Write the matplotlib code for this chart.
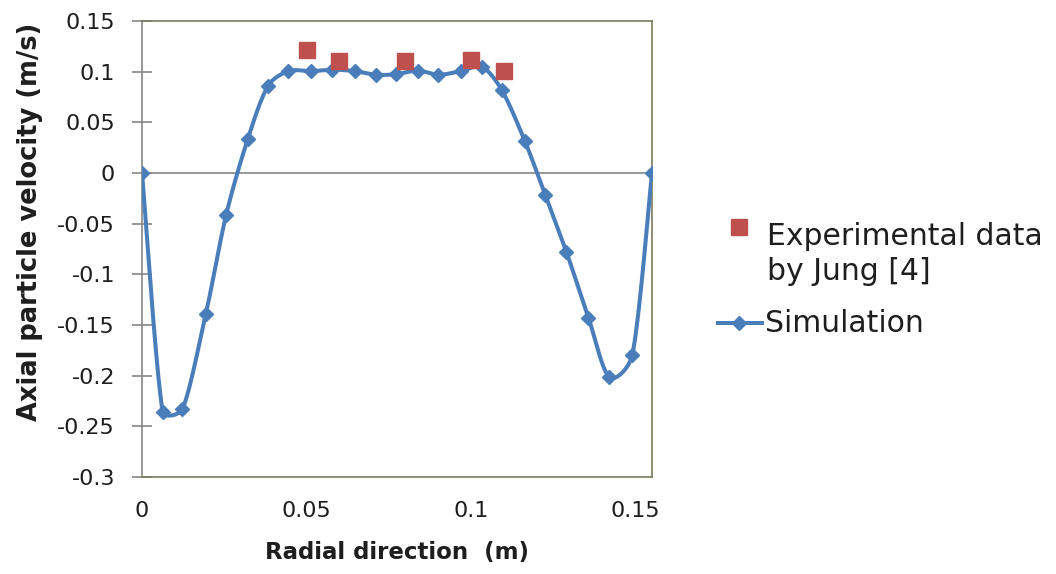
import numpy as np
import matplotlib.pyplot as plt
from matplotlib.lines import Line2D

# ---------------- data ----------------
# simulated axial particle velocity across the column
sim_r = [0.0, 0.0063, 0.0123, 0.0194, 0.0256, 0.0322, 0.0383, 0.0445, 0.0515,
         0.0578, 0.0647, 0.0710, 0.0772, 0.0838, 0.0901, 0.0969, 0.1034,
         0.1094, 0.1163, 0.1226, 0.1290, 0.1357, 0.1420, 0.1490, 0.1550]
sim_v = [0.0, -0.236, -0.233, -0.139, -0.041, 0.034, 0.086, 0.1005, 0.1005,
         0.102, 0.1005, 0.097, 0.0975, 0.101, 0.097, 0.1005, 0.1045,
         0.0815, 0.032, -0.022, -0.078, -0.143, -0.201, -0.180, 0.0]

# experimental points (Jung [4])
exp_r = [0.05, 0.06, 0.08, 0.10, 0.11]
exp_v = [0.121, 0.111, 0.111, 0.112, 0.101]

x_ticks = [0, 0.05, 0.1, 0.15]
x_labels = ['0', '0.05', '0.1', '0.15']
y_ticks = [0.15, 0.1, 0.05, 0, -0.05, -0.1, -0.15, -0.2, -0.25, -0.3]
y_labels = ['0.15', '0.1', '0.05', '0', '-0.05', '-0.1', '-0.15', '-0.2', '-0.25', '-0.3']

XLIM = (0, 0.155)
YLIM = (-0.3, 0.15)

BLUE = '#4A7EBB'
RED = '#C0504D'
GRID = '#868686'
FRAME = '#7b7b5e'
INK = '#1e1e1e'

plt.rcParams['font.family'] = ['DejaVu Sans']

W, H = 1056, 574
AX_BOX = [142 / W, 1 - 477 / H, 510 / W, 456 / H]


def smooth(xs, ys, sx, sy, steps=24):
    # bezier smoothing done in pixel space; handle length is capped by the
    # segment length so big jumps don't overshoot
    P = np.column_stack([np.asarray(xs, float) * sx, np.asarray(ys, float) * sy])
    n = len(P)
    t = np.linspace(0, 1, steps, endpoint=False)[:, None]
    pts = []
    for i in range(n - 1):
        p0, p1, p2, p3 = P[max(i - 1, 0)], P[i], P[i + 1], P[min(i + 2, n - 1)]
        seg = np.linalg.norm(p2 - p1)
        d1, d2 = p2 - p0, p3 - p1
        n1, n2 = np.linalg.norm(d1), np.linalg.norm(d2)
        c1 = p1 + d1 / n1 * min(n1 / 6, seg / 3)
        c2 = p2 - d2 / n2 * min(n2 / 6, seg / 3)
        b = (1 - t) ** 3 * p1 + 3 * (1 - t) ** 2 * t * c1 + 3 * (1 - t) * t ** 2 * c2 + t ** 3 * p2
        pts.append(b)
    pts.append(P[-1:])
    pts = np.vstack(pts)
    return pts[:, 0] / sx, pts[:, 1] / sy


fig = plt.figure(figsize=(W / 100, H / 100), dpi=100)
ax = fig.add_axes(AX_BOX)

# x axis sits on v = 0
ax.axhline(0, color=GRID, lw=1.2, zorder=1)

px_x = AX_BOX[2] * W / (XLIM[1] - XLIM[0])
px_y = AX_BOX[3] * H / (YLIM[1] - YLIM[0])
lx, ly = smooth(sim_r, sim_v, px_x, px_y)
ax.plot(lx, ly, color=BLUE, lw=2.9, solid_capstyle='round', solid_joinstyle='round', zorder=3)
ax.plot(sim_r, sim_v, ls='none', marker='D', ms=7.5, color=BLUE, zorder=4)
ax.plot(exp_r, exp_v, ls='none', marker='s', ms=11, color=RED, zorder=5)

ax.set_xlim(*XLIM)
ax.set_ylim(*YLIM)
ax.set_xticks(x_ticks)
ax.set_xticklabels(x_labels)
ax.set_yticks(y_ticks)
ax.set_yticklabels(y_labels)
ax.tick_params(axis='x', length=0, pad=17, labelsize=16, colors=INK)
ax.tick_params(axis='y', direction='inout', length=14, width=1.2, color=GRID,
               pad=12.5, labelsize=16, labelcolor=INK)

for side in ('top', 'right', 'bottom'):
    ax.spines[side].set_color(FRAME)
    ax.spines[side].set_linewidth(1.2)
ax.spines['left'].set_color(GRID)
ax.spines['left'].set_linewidth(1.2)

# axis titles
fig.text(397 / W, 1 - 553 / H, 'Radial direction  (m)', fontsize=16.5, fontweight='bold',
         color=INK, ha='center', va='center')
fig.text(30 / W, 1 - 222 / H, 'Axial particle velocity (m/s)', fontsize=18.5,
         fontweight='bold', color=INK, rotation=90, ha='center', va='center')

# legend, laid out by hand so the marker sits on the first label line
fig.add_artist(Line2D([739 / W], [1 - 227 / H], transform=fig.transFigure,
                      ls='none', marker='s', ms=11.5, color=RED))
fig.text(767 / W, 1 - 245 / H, 'Experimental data', fontsize=21.5, color=INK,
         va='baseline', ha='left')
fig.text(767 / W, 1 - 280 / H, 'by Jung [4]', fontsize=21.5, color=INK,
         va='baseline', ha='left')
fig.add_artist(Line2D([718 / W, 762 / W], [1 - 323 / H] * 2, transform=fig.transFigure,
                      color=BLUE, lw=2.9))
fig.add_artist(Line2D([739 / W], [1 - 323 / H], transform=fig.transFigure,
                      ls='none', marker='D', ms=7.5, color=BLUE))
fig.text(765 / W, 1 - 332 / H, 'Simulation', fontsize=21.5, color=INK,
         va='baseline', ha='left')

fig.savefig('out.png', dpi=100)
